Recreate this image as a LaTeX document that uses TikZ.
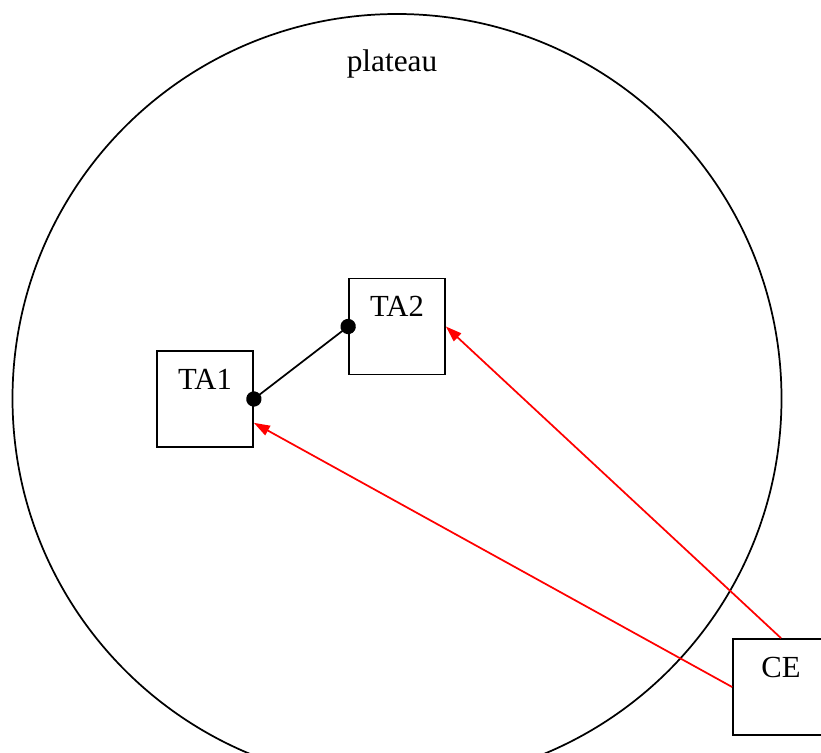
\documentclass[tikz,border=0pt]{standalone}
\usepackage{fontspec}
\setmainfont{Liberation Serif}
\usetikzlibrary{arrows.meta,positioning}

\begin{document}
\begin{tikzpicture}[x=0.75pt,y=-0.75pt,
    tabox/.style={draw,line width=1.3pt,rectangle,inner sep=0pt,
      minimum width=72pt,minimum height=72pt,
      text height=28.5pt,text depth=43.5pt,
      font=\fontsize{23}{27}\selectfont},
    ce/.style={draw=red,line width=1.3pt,-{Triangle[length=12pt,width=8pt]}}]
    \useasboundingbox (0,0) rectangle (821,753);
    \clip (0,0) rectangle (821,753);
    \draw[line width=1.3pt] (397,398.5) circle (384.5);
    \node[font=\fontsize{23.5}{27}\selectfont,anchor=base] (plateau) at (392,71) {plateau};
    \node[tabox] (TA1) at (205,399) {TA1};
    \node[tabox] (TA2) at (397,326.5) {TA2};
    \node[tabox] (CE) at (781,687) {CE};
    \draw[line width=1.3pt,{Circle[length=11.5pt]}-{Circle[length=11.5pt]},
      shorten <=-5.75pt,shorten >=-5.75pt] (TA1.east) -- (TA2.west);
    \draw[ce] (CE.north) -- (TA2.east);
    \draw[ce] (CE.west) -- (TA1.-26.57);
\end{tikzpicture}
\end{document}
